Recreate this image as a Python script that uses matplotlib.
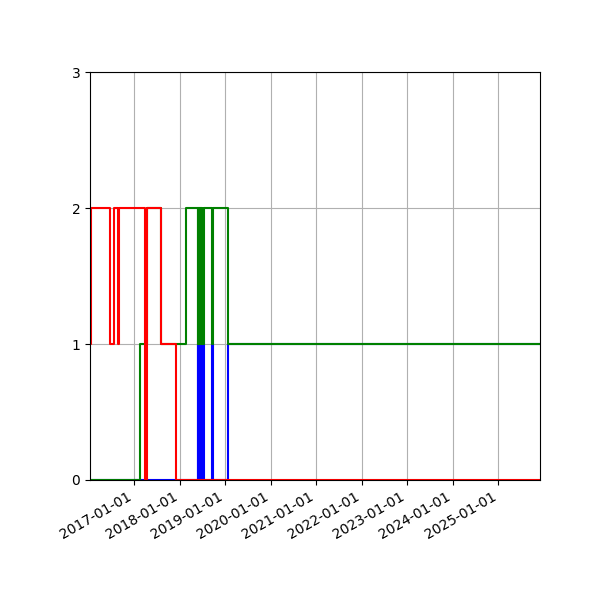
import numpy as np
import pandas as pd
import matplotlib
matplotlib.use("Agg")
import matplotlib.pyplot as plt
import matplotlib.dates as mdates

# step data (value holds until the next date)
red_dates = ["2016-01-12", "2016-01-18", "2016-06-19", "2016-07-21", "2016-08-26",
             "2016-08-30", "2017-03-28", "2017-04-13", "2017-08-03", "2017-12-05",
             "2025-12-01"]
red_vals = [1, 2, 1, 2, 1, 2, 0, 2, 1, 0, 0]

dense_dates = ["2018-05-24", "2018-05-28", "2018-06-02", "2018-06-06", "2018-06-11",
               "2018-06-15", "2018-06-20", "2018-06-24", "2018-06-29", "2018-07-03",
               "2018-07-08", "2018-07-14"]

green_dates = (["2016-01-12", "2017-02-20", "2017-04-17", "2017-08-03", "2018-02-24"]
               + dense_dates
               + ["2018-09-18", "2018-09-29", "2019-01-25", "2025-12-01"])
green_vals = ([0, 1, 2, 1, 2]
              + [1, 2, 1, 2, 1, 2, 1, 2, 1, 2, 1, 2]
              + [1, 2, 1, 1])

blue_dates = (["2016-01-12"]
              + dense_dates
              + ["2018-09-18", "2018-09-29", "2019-01-25", "2025-12-01"])
blue_vals = ([0]
             + [1, 0, 1, 0, 1, 0, 1, 0, 1, 0, 1, 0]
             + [1, 0, 1, 1])

fig, ax = plt.subplots(figsize=(6, 6), dpi=100)
fig.subplots_adjust(left=0.15, right=0.9, top=0.88, bottom=0.2)

ax.step(pd.to_datetime(blue_dates), blue_vals, where="post", color="b")
ax.step(pd.to_datetime(green_dates), green_vals, where="post", color="g")
ax.step(pd.to_datetime(red_dates), red_vals, where="post", color="r")

ax.set_xlim(pd.Timestamp("2016-01-12"), pd.Timestamp("2025-12-01"))
ax.set_ylim(0, 3)
ax.set_yticks([0, 1, 2, 3])
ax.xaxis.set_major_locator(mdates.YearLocator())
ax.xaxis.set_major_formatter(mdates.DateFormatter("%Y-%m-%d"))
ax.grid(True)
plt.setp(ax.get_xticklabels(), rotation=30, ha="right")

fig.savefig("out.png")
